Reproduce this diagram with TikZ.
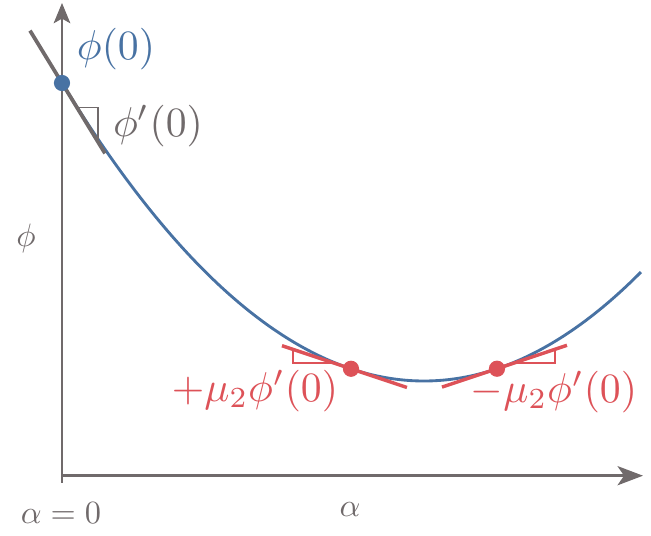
\documentclass[tikz,border=0pt]{standalone}
\usepackage{graphicx}
\usetikzlibrary{arrows.meta,calc}
\definecolor{cblue}{RGB}{72,114,163}
\definecolor{cred}{RGB}{221,82,88}
\definecolor{cgray}{RGB}{112,106,107}
\newcommand\biglbl[1]{\scalebox{1.39}{#1}}
\newcommand\axlbl[1]{\scalebox{1.08}{#1}}
\begin{document}
\begin{tikzpicture}[x=0.3333pt,y=-0.3333pt,
  declare function={phiy(\t)=381-22.995*(\t)*(\t)-0.0704*(\t)*(\t)*(\t);},
  tanline/.style={line width=1.15pt},
  marker/.style={line width=0.4pt},
  dot/.style={circle,inner sep=0pt,minimum size=5.4pt,fill=#1},
  lbl/.style={inner sep=0pt}]
\useasboundingbox (0,0) rectangle (651,536);
% axes
\coordinate (yb) at (62,483);
\coordinate (yt) at (62,3);
\coordinate (xl) at (62,475.7);
\coordinate (xr) at (643,475.7);
\draw[cgray,line width=0.4pt,-{Stealth[length=6.8pt,width=5.6pt,inset=1.6pt]}] (yb) -- (yt);
\draw[cgray,line width=0.8pt,-{Stealth[length=8.5pt,width=6.4pt,inset=2.2pt]}] (xl) -- (xr);
% curve
\draw[cblue,line width=0.95pt] plot[domain=62:641,samples=150,smooth] (\x,{phiy((\x-424)/100)});
% gray tangent at 0
\coordinate (p0) at (62,83);
\coordinate (g1) at (30,30.6);
\coordinate (g2) at (105,153.4);
\draw[cgray,line width=1.25pt] (g1) -- (g2);
\coordinate (ga) at (77,107.6);
\coordinate (gb) at (98,107.6);
\coordinate (gc) at (98,141.9);
\draw[cgray,marker] (ga) -- (gb) -- (gc);
% red tangents
\coordinate (pl) at (351,368.77);
\coordinate (pr) at (497,368.72);
\coordinate (l1) at (282,345.7);
\coordinate (l2) at (407,387.5);
\coordinate (r1) at (442,387.1);
\coordinate (r2) at (567,345.3);
\draw[cred,tanline] (l1) -- (l2);
\draw[cred,tanline] (r1) -- (r2);
\coordinate (la) at (293,349.3);
\coordinate (lb) at (293,363);
\coordinate (lc) at (333.8,363);
\draw[cred,marker] (la) -- (lb) -- (lc);
\coordinate (ra) at (514.2,363);
\coordinate (rb) at (555,363);
\coordinate (rc) at (555,349.3);
\draw[cred,marker] (ra) -- (rb) -- (rc);
% dots
\node[dot=cblue] (d0) at (p0) {};
\node[dot=cred] (dl) at (pl) {};
\node[dot=cred] (dr) at (pr) {};
% labels
\node[lbl,text=cblue] (t0) at (116,49) {\biglbl{$\phi(0)$}};
\node[lbl,text=cgray] (t1) at (158,126) {\biglbl{$\phi'(0)$}};
\node[lbl,text=cred] (t2) at (255,391) {\biglbl{$+\mu_2\phi'(0)$}};
\node[lbl,text=cred] (t3) at (554,392) {\biglbl{$-\mu_2\phi'(0)$}};
\node[lbl,text=cgray] (ty) at (26,238) {\axlbl{$\phi$}};
\node[lbl,text=cgray] (tx0) at (61,513) {\axlbl{$\alpha=0$}};
\node[lbl,text=cgray] (tx) at (350,510) {\axlbl{$\alpha$}};
\end{tikzpicture}
\end{document}
